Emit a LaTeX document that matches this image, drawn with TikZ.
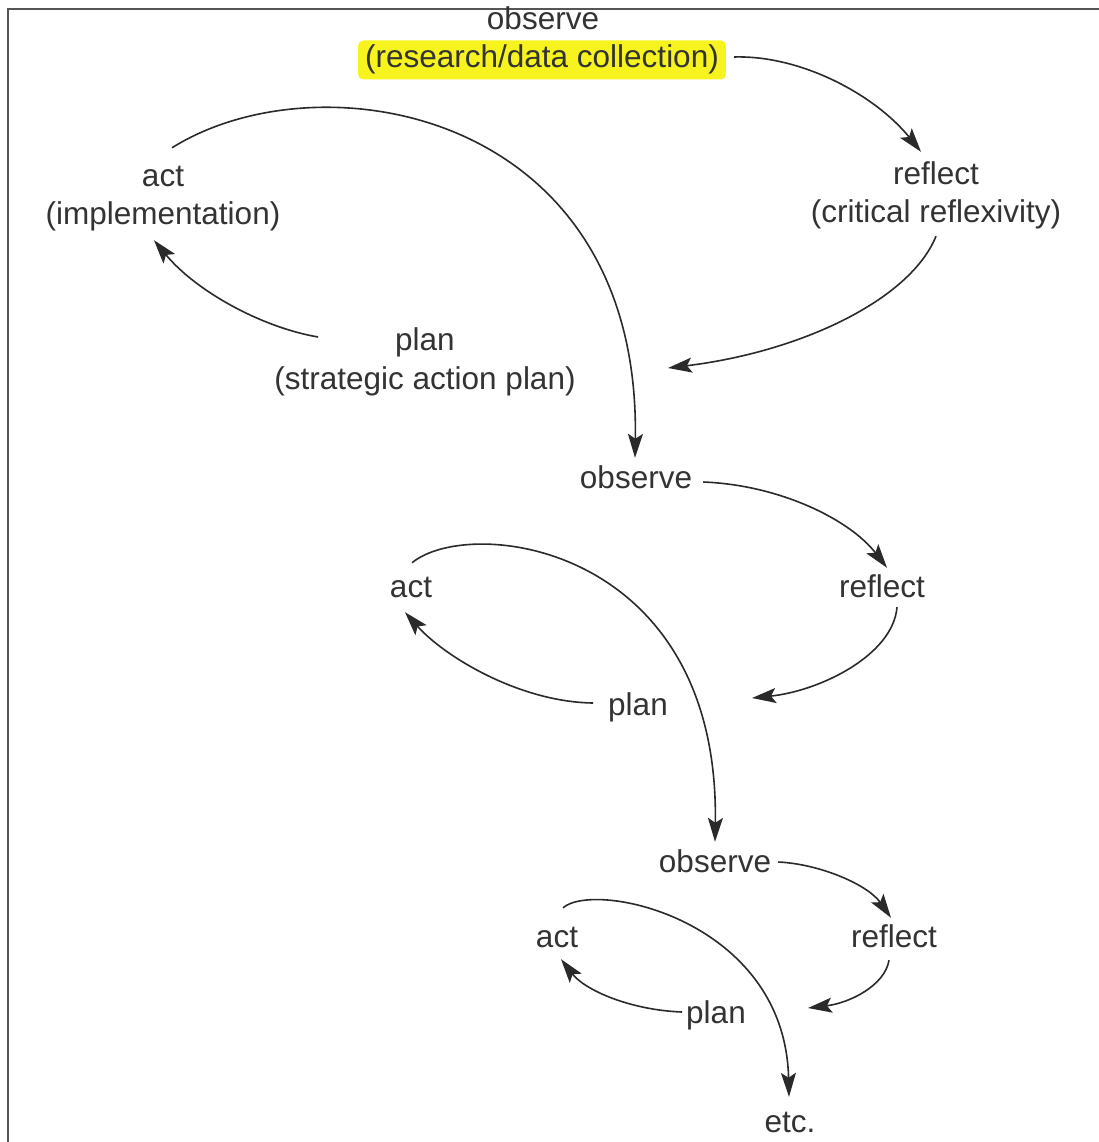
\documentclass[tikz,border=0pt]{standalone}
\usepackage{fontspec}
\setmainfont{Liberation Sans}
\usetikzlibrary{arrows.meta,backgrounds,calc}
\definecolor{txt}{HTML}{333333}
\definecolor{ln}{HTML}{2A2A2A}
\definecolor{frame}{HTML}{555555}
\definecolor{hl}{RGB}{247,243,30}
\definecolor{halo}{RGB}{252,250,190}
\tikzset{
  lbl/.style={font=\fontsize{31.5}{38}\selectfont, text=txt, inner sep=0pt,
              text height=23pt, text depth=7pt, anchor=base},
  hilite/.style={lbl, fill=hl, inner xsep=7pt, inner ysep=4.5pt, rounded corners=5pt},
  arr/.style={draw=ln, line width=1.6pt, -{Stealth[length=24pt 0, width=15pt 0, inset=5pt 0]}}
}
\begin{document}
\begin{tikzpicture}[x=1pt,y=-1pt]
\useasboundingbox (0,0) rectangle (1099,1142);
\fill[white] (0,0) rectangle (1099,1142);
\draw[frame, line width=2pt] (8,1142) -- (8,9) -- (1099,9);

% cycle 1
\node[lbl] (obs1) at (543,30) {observe};
\node[hilite] (obs1d) at (542,68) {(research/data collection)};
\node[lbl] (ref1) at (936,185) {reflect};
\node[lbl] (ref1d) at (936,222) {(critical reflexivity)};
\node[lbl] (act1) at (163,186) {act};
\node[lbl] (act1d) at (163,224) {(implementation)};
\node[lbl] (plan1) at (425,350) {plan};
\node[lbl] (plan1d) at (425,389) {(strategic action plan)};

% cycle 2
\node[lbl] (obs2) at (636,488) {observe};
\node[lbl] (ref2) at (882,597) {reflect};
\node[lbl] (act2) at (411,597) {act};
\node[lbl] (plan2) at (638,715) {plan};

% cycle 3
\node[lbl] (obs3) at (715,872) {observe};
\node[lbl] (ref3) at (894,947) {reflect};
\node[lbl] (act3) at (557,947) {act};
\node[lbl] (plan3) at (716,1023) {plan};
\node[lbl] (etc) at (790,1132) {etc.};

\begin{scope}[on background layer]
\fill[halo, rounded corners=9pt] ($(obs1d.south west)+(-5,5)$) rectangle ($(obs1d.north east)+(5,-5)$);
\end{scope}

% free arrow ends
\coordinate (c2) at (668,368);
\coordinate (c6) at (752,698);
\coordinate (c10) at (808,1008);

% connectors cycle 1
\draw[arr] ([shift={(8,-3)}]obs1d.east) .. controls +(67,-2) and +(-46,-57) .. ([shift={(-15,-10)}]ref1.north);
\draw[arr] ([shift={(0,7)}]ref1d.south) .. controls +(-26,64) and +(132,-16) .. (c2);
\draw[arr] ([shift={(-77,-5)}]plan1.west) .. controls +(-58,-10) and +(41,50) .. ([shift={(-9,9)}]act1d.south);
\draw[arr] ([shift={(9,-15)}]act1.north) .. controls +(148,-93) and +(6,-348) .. ([shift={(-1,-7)}]obs2.north);

% connectors cycle 2
\draw[arr] ([shift={(11,2)}]obs2.east) .. controls +(77,3) and +(-37,-48) .. ([shift={(5,-6)}]ref2.north);
\draw[arr] ([shift={(15,3)}]ref2.south) .. controls +(-4,48) and +(68,-7) .. (c6);
\draw[arr] ([shift={(-15,-4)}]plan2.west) .. controls +(-73,-1) and +(40,45) .. ([shift={(-6,8)}]act2.south);
\draw[arr] ([shift={(1,-11)}]act2.north) .. controls +(58,-48) and +(5,-297) .. ([shift={(0,-7)}]obs3.north);

% connectors cycle 3
\draw[arr] ([shift={(7,-2)}]obs3.east) .. controls +(42,2) and +(-23,-33) .. ([shift={(-3,-6)}]ref3.north);
\draw[arr] ([shift={(-5,6)}]ref3.south) .. controls +(-4,25) and +(42,-5) .. (c10);
\draw[arr] ([shift={(-4,-3)}]plan3.west) .. controls +(-52,-2) and +(24,31) .. ([shift={(4,5)}]act3.south);
\draw[arr] ([shift={(6,-16)}]act3.north) .. controls +(32,-28) and +(-4,-177) .. ([shift={(-1,-12)}]etc.north);
\end{tikzpicture}
\end{document}
